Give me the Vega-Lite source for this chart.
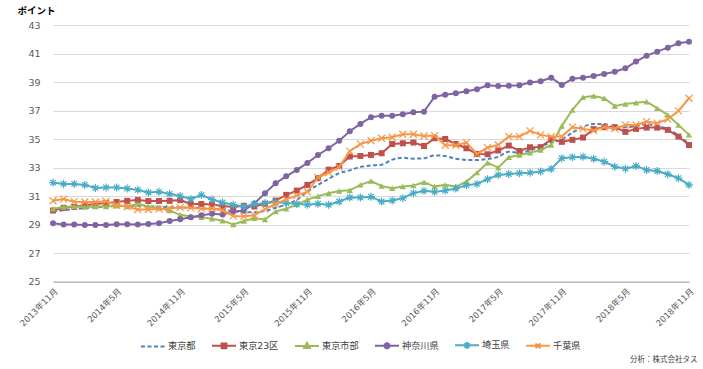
{
  "$schema": "https://vega.github.io/schema/vega-lite/v6.json",
  "width": 636,
  "height": 256.5,
  "autosize": {"type": "none"},
  "padding": {"left": 53, "top": 25, "right": 14, "bottom": 87.5},
  "background": "white",
  "config": {
    "view": {"stroke": null},
    "font": "DejaVu Sans, Noto Sans CJK JP",
    "legend": {"symbolOpacity": 1, "symbolStrokeWidth": 2, "symbolSize": 576, "labelFontSize": 9.2, "labelColor": "#404040", "labelOffset": 2, "columnPadding": 12}
  },
  "data": {"values": [
    {"m":"2013年11月","東京都":29.9,"東京23区":29.98,"東京市部":30.1,"神奈川県":29.09,"埼玉県":31.94,"千葉県":30.67},
    {"m":"2013年12月","東京都":30.0,"東京23区":30.17,"東京市部":30.22,"神奈川県":29.0,"埼玉県":31.85,"千葉県":30.78},
    {"m":"2014年1月","東京都":30.08,"東京23区":30.24,"東京市部":30.26,"神奈川県":29.0,"埼玉県":31.85,"千葉県":30.6},
    {"m":"2014年2月","東京都":30.15,"東京23区":30.35,"東京市部":30.22,"神奈川県":28.97,"埼玉県":31.78,"千葉県":30.58},
    {"m":"2014年3月","東京都":30.2,"東京23区":30.44,"東京市部":30.26,"神奈川県":28.97,"埼玉県":31.56,"千葉県":30.58},
    {"m":"2014年4月","東京都":30.25,"東京23区":30.5,"東京市部":30.26,"神奈川県":28.97,"埼玉県":31.6,"千葉県":30.63},
    {"m":"2014年5月","東京都":30.3,"東京23区":30.58,"東京市部":30.31,"神奈川県":29.02,"埼玉県":31.6,"千葉県":30.37},
    {"m":"2014年6月","東京都":30.33,"東京23区":30.66,"東京市部":30.26,"神奈川県":29.02,"埼玉県":31.52,"千葉県":30.25},
    {"m":"2014年7月","東京都":30.3,"東京23区":30.72,"東京市部":30.45,"神奈川県":29.0,"埼玉県":31.43,"千葉県":30.05},
    {"m":"2014年8月","東京都":30.27,"東京23区":30.65,"東京市部":30.26,"神奈川県":29.04,"埼玉県":31.24,"千葉県":30.05},
    {"m":"2014年9月","東京都":30.25,"東京23区":30.65,"東京市部":30.15,"神奈川県":29.09,"埼玉県":31.29,"千葉県":30.1},
    {"m":"2014年10月","東京都":30.22,"東京23区":30.66,"東京市部":29.98,"神奈川県":29.25,"埼玉県":31.15,"千葉県":30.12},
    {"m":"2014年11月","東京都":30.2,"東京23区":30.71,"東京市部":29.68,"神奈川県":29.37,"埼玉県":31.0,"千葉県":30.2},
    {"m":"2014年12月","東京都":30.2,"東京23区":30.44,"東京市部":29.56,"神奈川県":29.51,"埼玉県":30.79,"千葉県":30.17},
    {"m":"2015年1月","東京都":30.15,"東京23区":30.44,"東京市部":29.51,"神奈川県":29.65,"埼玉県":31.07,"千葉県":30.1},
    {"m":"2015年2月","東京都":30.08,"東京23区":30.4,"東京市部":29.4,"神奈川県":29.76,"埼玉県":30.76,"千葉県":30.12},
    {"m":"2015年3月","東京都":30.05,"東京23区":30.3,"東京市部":29.27,"神奈川県":29.7,"埼玉県":30.54,"千葉県":30.0},
    {"m":"2015年4月","東京都":29.92,"東京23区":30.22,"東京市部":29.0,"神奈川県":29.9,"埼玉県":30.39,"千葉県":29.6},
    {"m":"2015年5月","東京都":29.85,"東京23区":30.31,"東京市部":29.25,"神奈川県":29.98,"埼玉県":30.26,"千葉県":29.58},
    {"m":"2015年6月","東京都":29.86,"東京23区":30.26,"東京市部":29.44,"神奈川県":30.47,"埼玉県":30.43,"千葉県":29.65},
    {"m":"2015年7月","東京都":29.95,"東京23区":30.45,"東京市部":29.35,"神奈川県":31.2,"埼玉県":30.5,"千葉県":30.08},
    {"m":"2015年8月","東京都":30.17,"東京23区":30.68,"東京市部":29.91,"神奈川県":31.9,"埼玉県":30.57,"千葉県":30.44},
    {"m":"2015年9月","東京都":30.4,"東京23区":31.08,"東京市部":30.1,"神奈川県":32.38,"埼玉県":30.5,"千葉県":30.76},
    {"m":"2015年10月","東京都":30.73,"東京23区":31.38,"東京市部":30.4,"神奈川県":32.83,"埼玉県":30.45,"千葉県":31.03},
    {"m":"2015年11月","東京都":31.3,"東京23区":31.78,"東京市部":30.75,"神奈川県":33.32,"埼玉県":30.38,"千葉県":31.3},
    {"m":"2015年12月","東京都":31.78,"東京23区":32.25,"東京市部":30.98,"神奈川県":33.88,"埼玉県":30.45,"千葉県":32.3},
    {"m":"2016年1月","東京都":32.2,"東京23区":32.85,"東京市部":31.2,"神奈川県":34.35,"埼玉県":30.38,"千葉県":32.65},
    {"m":"2016年2月","東京都":32.6,"東京23区":33.11,"東京市部":31.35,"神奈川県":34.88,"埼玉県":30.61,"千葉県":33.03},
    {"m":"2016年3月","東京都":32.8,"東京23区":33.77,"東京市部":31.4,"神奈川県":35.55,"埼玉県":30.89,"千葉県":34.15},
    {"m":"2016年4月","東京都":33.04,"東京23区":33.81,"東京市部":31.78,"神奈川県":36.06,"埼玉県":30.89,"千葉県":34.64},
    {"m":"2016年5月","東京都":33.14,"東京23区":33.88,"東京市部":32.05,"神奈川県":36.53,"埼玉県":30.95,"千葉県":34.88},
    {"m":"2016年6月","東京都":33.2,"東京23区":34.0,"東京市部":31.7,"神奈川県":36.64,"埼玉県":30.61,"千葉県":35.05},
    {"m":"2016年7月","東京都":33.55,"東京23区":34.65,"東京市部":31.55,"神奈川県":36.64,"埼玉県":30.68,"千葉県":35.12},
    {"m":"2016年8月","東京都":33.68,"東京23区":34.7,"東京市部":31.66,"神奈川県":36.74,"埼玉県":30.85,"千葉県":35.33},
    {"m":"2016年9月","東京都":33.62,"東京23区":34.75,"東京市部":31.73,"神奈川県":36.88,"埼玉県":31.2,"千葉県":35.33},
    {"m":"2016年10月","東京都":33.65,"東京23区":34.51,"東京市部":31.97,"神奈川県":36.92,"埼玉県":31.36,"千葉県":35.21},
    {"m":"2016年11月","東京都":33.85,"東京23区":35.05,"東京市部":31.66,"神奈川県":37.97,"埼玉県":31.29,"千葉県":35.24},
    {"m":"2016年12月","東京都":33.8,"東京23区":35.0,"東京市部":31.78,"神奈川県":38.11,"埼玉県":31.38,"千葉県":34.56},
    {"m":"2017年1月","東京都":33.62,"東京23区":34.65,"東京市部":31.66,"神奈川県":38.21,"埼玉県":31.52,"千葉県":34.56},
    {"m":"2017年2月","東京都":33.53,"東京23区":34.35,"東京市部":32.01,"神奈川県":38.35,"埼玉県":31.76,"千葉県":34.75},
    {"m":"2017年3月","東京都":33.52,"東京23区":33.95,"東京市部":32.64,"神奈川県":38.49,"埼玉県":31.85,"千葉県":33.95},
    {"m":"2017年4月","東京都":33.6,"東京23区":33.93,"東京市部":33.34,"神奈川県":38.77,"埼玉県":32.18,"千葉県":34.4},
    {"m":"2017年5月","東京都":33.75,"東京23区":34.19,"東京市部":32.99,"神奈川県":38.72,"埼玉県":32.48,"千葉県":34.58},
    {"m":"2017年6月","東京都":34.1,"東京23区":34.54,"東京市部":33.72,"神奈川県":38.74,"埼玉県":32.55,"千葉県":35.17},
    {"m":"2017年7月","東京都":34.05,"東京23区":34.16,"東京市部":33.88,"神奈川県":38.77,"埼玉県":32.6,"千葉県":35.17},
    {"m":"2017年8月","東京都":34.2,"東京23区":34.42,"東京市部":34.04,"神奈川県":38.96,"埼玉県":32.64,"千葉県":35.57},
    {"m":"2017年9月","東京都":34.5,"東京23区":34.43,"東京市部":34.23,"神奈川県":39.05,"埼玉県":32.72,"千葉県":35.29},
    {"m":"2017年10月","東京都":34.75,"東京23区":34.98,"東京市部":34.58,"神奈川県":39.3,"埼玉県":32.9,"千葉県":35.17},
    {"m":"2017年11月","東京都":34.98,"東京23区":34.8,"東京市部":35.92,"神奈川県":38.79,"埼玉県":33.65,"千葉県":35.17},
    {"m":"2017年12月","東京都":35.45,"東京23区":34.94,"東京市部":37.04,"神奈川県":39.23,"埼玉県":33.72,"千葉県":35.83},
    {"m":"2018年1月","東京都":35.85,"東京23区":35.1,"東京市部":37.93,"神奈川県":39.3,"埼玉県":33.76,"千葉県":35.71},
    {"m":"2018年2月","東京都":36.05,"東京23区":35.69,"東京市部":38.02,"神奈川県":39.42,"埼玉県":33.62,"千葉県":35.59},
    {"m":"2018年3月","東京都":36.05,"東京23区":35.83,"東京市部":37.86,"神奈川県":39.56,"埼玉県":33.41,"千葉県":35.83},
    {"m":"2018年4月","東京都":35.8,"東京23区":35.83,"東京市部":37.32,"神奈川県":39.72,"埼玉県":33.06,"千葉県":35.73},
    {"m":"2018年5月","東京都":35.82,"東京23区":35.5,"東京市部":37.46,"神奈川県":39.96,"埼玉県":32.92,"千葉県":35.99},
    {"m":"2018年6月","東京都":35.9,"東京23区":35.71,"東京市部":37.55,"神奈川県":40.43,"埼玉県":33.11,"千葉県":35.99},
    {"m":"2018年7月","東京都":36.05,"東京23区":35.8,"東京市部":37.62,"神奈川県":40.85,"埼玉県":32.83,"千葉県":36.22},
    {"m":"2018年8月","東京都":35.9,"東京23区":35.8,"東京市部":37.16,"神奈川県":41.13,"埼玉県":32.76,"千葉県":36.11},
    {"m":"2018年9月","東京都":35.7,"東京23区":35.64,"東京市部":36.69,"神奈川県":41.41,"埼玉県":32.53,"千葉県":36.39},
    {"m":"2018年10月","東京都":35.25,"東京23区":35.17,"東京市部":35.99,"神奈川県":41.72,"埼玉県":32.25,"千葉県":36.97},
    {"m":"2018年11月","東京都":34.65,"東京23区":34.58,"東京市部":35.29,"神奈川県":41.83,"埼玉県":31.78,"千葉県":37.86}
  ]},
  "transform": [
    {"fold": ["東京都","東京23区","東京市部","神奈川県","埼玉県","千葉県"], "as": ["s","v"]}
  ],
  "encoding": {
    "x": {
      "field": "m", "type": "ordinal", "sort": null,
      "scale": {"type": "point", "padding": 0},
      "axis": {
        "values": ["2013年11月","2014年5月","2014年11月","2015年5月","2015年11月","2016年5月","2016年11月","2017年5月","2017年11月","2018年5月","2018年11月"],
        "labelAngle": -45, "labelFontSize": 8.5, "labelColor": "#595959", "labelPadding": 5,
        "ticks": false, "domainColor": "#a6a6a6", "domainWidth": 1, "grid": false,
        "title": "分析：株式会社タス", "titleFontSize": 7.5, "titleFontWeight": "normal", "titleColor": "#404040",
        "titleX": 644, "titleY": 77.5, "titleAlign": "right", "titleBaseline": "middle", "titleAngle": 0
      }
    },
    "y": {
      "field": "v", "type": "quantitative",
      "scale": {"domain": [25, 43], "nice": false, "zero": false},
      "axis": {
        "values": [25,27,29,31,33,35,37,39,41,43],
        "labelFontSize": 9.5, "labelColor": "#595959", "labelPadding": 13,
        "ticks": false, "domain": false, "gridColor": "#d9d9d9", "gridWidth": 1,
        "title": "ポイント", "titleAngle": 0, "titleX": -36, "titleY": -15, "titleAlign": "left",
        "titleBaseline": "middle", "titleFontSize": 9.5, "titleFontWeight": "bold", "titleColor": "#000000"
      }
    },
    "color": {
      "field": "s", "type": "nominal",
      "scale": {
        "domain": ["東京都","東京23区","東京市部","神奈川県","埼玉県","千葉県"],
        "range": ["#4F81BD","#C0504D","#9BBB59","#8064A2","#4BACC6","#F79646"]
      },
      "legend": {"title": null, "orient": "none", "direction": "horizontal", "legendX": 87, "legendY": 307}
    }
  },
  "layer": [
    {
      "transform": [{"filter": "datum.m === '2013年11月'"}],
      "mark": {"type": "point", "filled": true, "opacity": 0, "size": 576},
      "encoding": {
        "shape": {
          "field": "s", "type": "nominal",
          "scale": {
            "domain": ["東京都","東京23区","東京市部","神奈川県","埼玉県","千葉県"],
            "range": [
              "M-1,0H1",
              "M-1,0H1M-0.2,-0.2H0.2V0.2H-0.2Z",
              "M-1,0H1M0,-0.25L0.24,0.18H-0.24Z",
              "M-1,0H1M0.21,0A0.21,0.21,0,1,1,-0.21,0A0.21,0.21,0,1,1,0.21,0Z",
              "M-1,0H1M-0.2,-0.2L0.2,0.2M-0.2,0.2L0.2,-0.2M0,-0.28V0.28",
              "M-1,0H1M-0.2,-0.2L0.2,0.2M-0.2,0.2L0.2,-0.2"
            ]
          },
          "legend": {"title": null, "orient": "none", "direction": "horizontal", "legendX": 87, "legendY": 307}
        },
        "strokeDash": {
          "field": "s", "type": "nominal",
          "scale": {
            "domain": ["東京都","東京23区","東京市部","神奈川県","埼玉県","千葉県"],
            "range": [[4, 2.5], [1, 0], [1, 0], [1, 0], [1, 0], [1, 0]]
          },
          "legend": {"title": null, "orient": "none", "direction": "horizontal", "legendX": 87, "legendY": 307}
        }
      }
    },
    {
      "transform": [{"filter": "datum.s === '東京都'"}],
      "mark": {"type": "line", "strokeWidth": 2, "strokeDash": [4, 2.5], "interpolate": "monotone"}
    },
    {
      "transform": [{"filter": "datum.s === '東京23区'"}],
      "mark": {"type": "line", "strokeWidth": 2}
    },
    {
      "transform": [{"filter": "datum.s === '東京23区'"}],
      "mark": {"type": "point", "shape": "square", "size": 36, "filled": true, "opacity": 1}
    },
    {
      "transform": [{"filter": "datum.s === '東京市部'"}],
      "mark": {"type": "line", "strokeWidth": 2}
    },
    {
      "transform": [{"filter": "datum.s === '東京市部'"}],
      "mark": {"type": "point", "shape": "triangle-up", "size": 40, "filled": true, "opacity": 1}
    },
    {
      "transform": [{"filter": "datum.s === '神奈川県'"}],
      "mark": {"type": "line", "strokeWidth": 2}
    },
    {
      "transform": [{"filter": "datum.s === '神奈川県'"}],
      "mark": {"type": "point", "shape": "circle", "size": 36, "filled": true, "opacity": 1}
    },
    {
      "transform": [{"filter": "datum.s === '埼玉県'"}],
      "mark": {"type": "line", "strokeWidth": 2}
    },
    {
      "transform": [{"filter": "datum.s === '埼玉県'"}],
      "mark": {"type": "point", "shape": "M-0.7,-0.7L0.7,0.7M-0.7,0.7L0.7,-0.7M0,-1V1M-1,0H1", "size": 64, "filled": false, "strokeWidth": 1.2, "opacity": 1}
    },
    {
      "transform": [{"filter": "datum.s === '千葉県'"}],
      "mark": {"type": "line", "strokeWidth": 2}
    },
    {
      "transform": [{"filter": "datum.s === '千葉県'"}],
      "mark": {"type": "point", "shape": "M-1,-1L1,1M-1,1L1,-1", "size": 49, "filled": false, "strokeWidth": 1.2, "opacity": 1}
    }
  ]
}
